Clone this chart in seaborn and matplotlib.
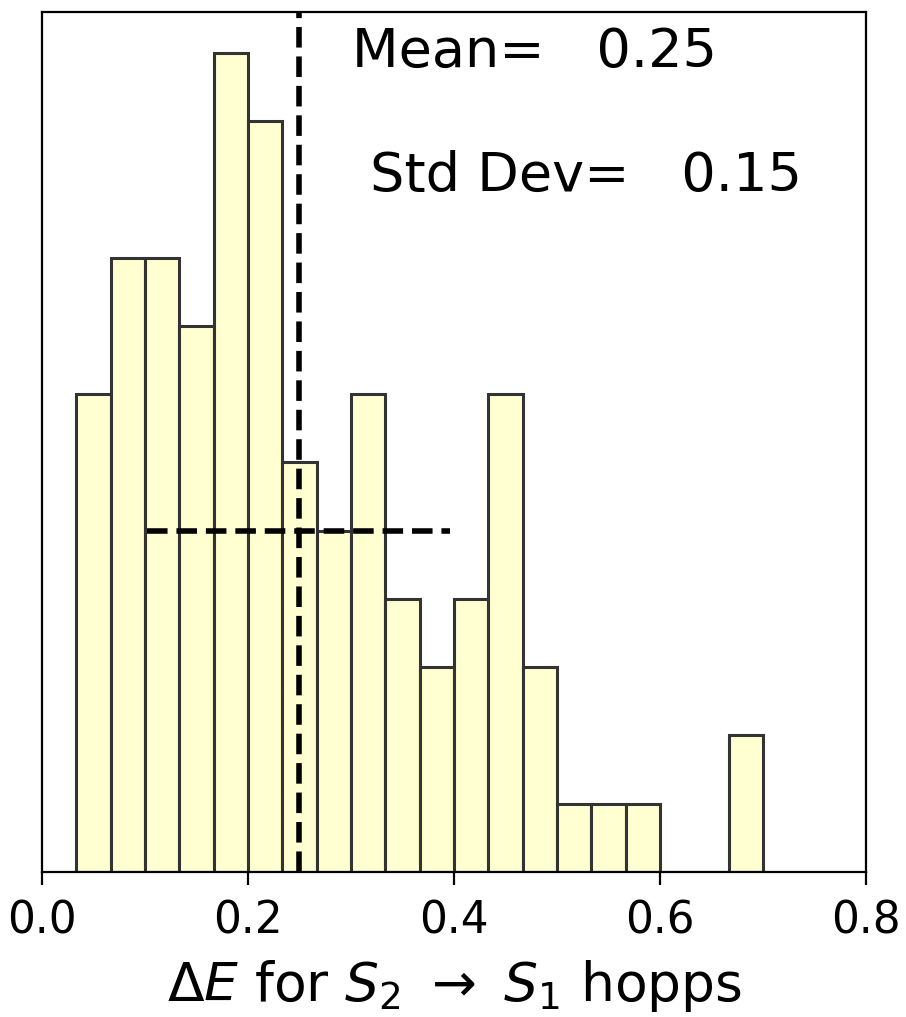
import numpy as np
import matplotlib
matplotlib.use("Agg")
import matplotlib.pyplot as plt
import seaborn as sns

# Histogram data (bin centres and counts)
bin_centers = [0.050, 0.083, 0.117, 0.150, 0.183, 0.217, 0.250, 0.283, 0.317, 0.350,
               0.383, 0.417, 0.450, 0.483, 0.517, 0.550, 0.583, 0.617, 0.650, 0.683]
counts = [7, 9, 9, 8, 12, 11, 6, 5, 7, 4, 3, 4, 7, 3, 1, 1, 1, 0, 0, 2]
mean_val = 0.249
std_val = 0.147
spread_level = 5
xticks = [0.0, 0.2, 0.4, 0.6, 0.8]
xtick_labels = ["0.0", "0.2", "0.4", "0.6", "0.8"]
mean_text = "Mean=   0.25"
std_text = "Std Dev=   0.15"
xlabel = r"$\Delta E$ for $S_2$ $\rightarrow$ $S_1$ hopps"

plt.rcParams['font.family'] = ['DejaVu Sans']
fig = plt.figure(figsize=(9.06, 10.17), dpi=100)
ax = fig.add_axes([0.0464, 0.1426, 0.9096, 0.8456])

sns.histplot(x=bin_centers, weights=counts, binwidth=1/30, binrange=(1/30, 0.7),
             color="#ffffd2", edgecolor="#333333", linewidth=2.2, alpha=1.0, ax=ax)

ax.axvline(mean_val, color="black", linestyle="--", linewidth=4)
ax.hlines(spread_level, mean_val - std_val, mean_val + std_val, color="black",
          linestyle="--", linewidth=4)

ax.text(0.301, 11.80, mean_text, fontsize=39, ha="left", va="baseline")
ax.text(0.318, 9.98, std_text, fontsize=39, ha="left", va="baseline")

ax.set_xlim(0, 0.8)
ax.set_xticks(xticks)
ax.set_xticklabels(xtick_labels)
ax.set_yticks([])
ax.set_ylabel("")
ax.set_xlabel(xlabel, fontsize=38.5, labelpad=11)
ax.tick_params(axis="x", labelsize=31.5, length=9, width=1.6, pad=11)
for s in ax.spines.values():
    s.set_linewidth(1.6)
    s.set_color("black")

fig.savefig("out.png", dpi=100)
